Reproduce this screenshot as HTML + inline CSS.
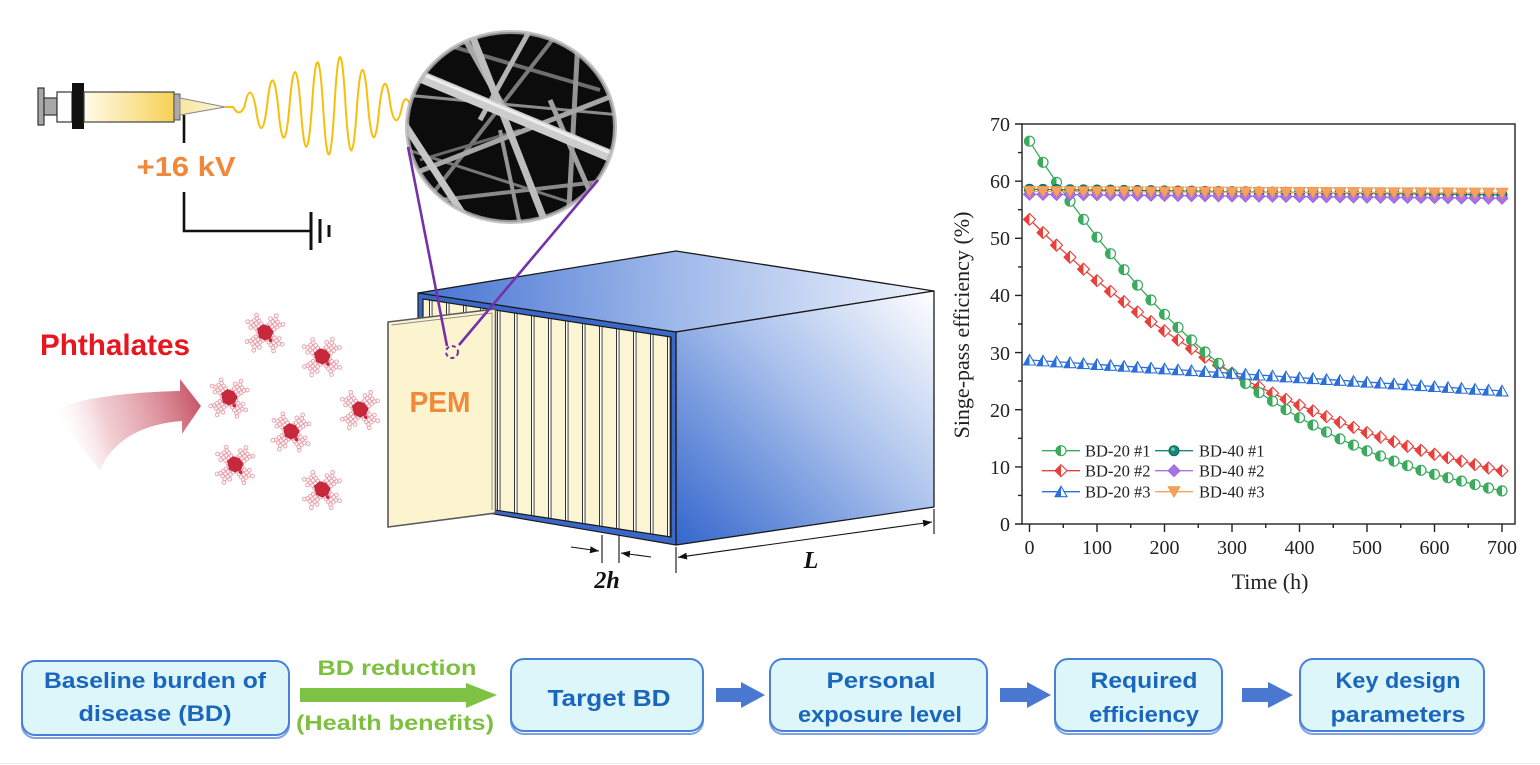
<!DOCTYPE html>
<html><head><meta charset="utf-8"><style>html,body{margin:0;padding:0;background:#fff}svg{display:block}</style></head>
<body>
<svg width="1540" height="765" viewBox="0 0 1540 765" xmlns="http://www.w3.org/2000/svg">
<defs>
<linearGradient id="barrel" x1="0" y1="0" x2="1" y2="0"><stop offset="0" stop-color="#fffbea"/><stop offset="1" stop-color="#f6d153"/></linearGradient>
<linearGradient id="needle" x1="0" y1="0" x2="1" y2="0"><stop offset="0" stop-color="#f7e6a0"/><stop offset="1" stop-color="#fdf6dc"/></linearGradient>
<linearGradient id="topG" gradientUnits="userSpaceOnUse" x1="418" y1="300" x2="934" y2="280"><stop offset="0" stop-color="#4673d2"/><stop offset="0.5" stop-color="#9fb9ea"/><stop offset="1" stop-color="#edf2fc"/></linearGradient>
<linearGradient id="sideG" gradientUnits="userSpaceOnUse" x1="676" y1="545" x2="934" y2="291"><stop offset="0" stop-color="#3466cc"/><stop offset="0.55" stop-color="#a9c1ec"/><stop offset="1" stop-color="#ffffff"/></linearGradient>
<linearGradient id="arrG" gradientUnits="userSpaceOnUse" x1="60" y1="445" x2="200" y2="400"><stop offset="0" stop-color="#ffffff" stop-opacity="0"/><stop offset="0.35" stop-color="#e6a3ad" stop-opacity="0.55"/><stop offset="1" stop-color="#c65466"/></linearGradient>
<pattern id="pl" patternUnits="userSpaceOnUse" x="497" y="0" width="17" height="765">
<rect width="17" height="765" fill="#ffffff"/><rect x="3" width="14" height="765" fill="#fcf5d4"/>
<rect x="0" width="1" height="765" fill="#333"/><rect x="2.6" width="0.9" height="765" fill="#333"/>
</pattern>
<clipPath id="semClip"><ellipse cx="511" cy="127" rx="104" ry="95"/></clipPath>
<marker id="ah" markerWidth="10" markerHeight="8" refX="9" refY="4" orient="auto" markerUnits="userSpaceOnUse"><path d="M0 0.5 L9 4 L0 7.5 Z" fill="#111"/></marker>
<marker id="mg" markerWidth="14" markerHeight="14" refX="7" refY="7" markerUnits="userSpaceOnUse"><circle cx="7" cy="7" r="5" fill="#fff" stroke="#3aaa5c" stroke-width="1.2"/><path d="M7 2A5 5 0 0 0 7 12Z" fill="#3aaa5c"/></marker>
<marker id="mr" markerWidth="14" markerHeight="14" refX="7" refY="7" markerUnits="userSpaceOnUse"><path d="M7 1 L13 7 L7 13 L1 7 Z" fill="#fff" stroke="#e8413c" stroke-width="1.1"/><path d="M7 1 L1 7 L7 13 Z" fill="#e8413c"/></marker>
<marker id="mb" markerWidth="14" markerHeight="14" refX="7" refY="7" markerUnits="userSpaceOnUse"><path d="M7 1.5 L13 12 L1 12 Z" fill="#fff" stroke="#2a6fdb" stroke-width="1.1"/><path d="M7 1.5 L1 12 L7 12 Z" fill="#2a6fdb"/></marker>
<marker id="mt" markerWidth="14" markerHeight="14" refX="7" refY="7" markerUnits="userSpaceOnUse"><circle cx="7" cy="7" r="5" fill="#158a78" stroke="#0e6a5c" stroke-width="1"/><circle cx="6" cy="5.5" r="1.8" fill="#6cc7b7"/></marker>
<marker id="mp" markerWidth="14" markerHeight="14" refX="7" refY="7" markerUnits="userSpaceOnUse"><path d="M7 1 L13 7 L7 13 L1 7 Z" fill="#a873e8" stroke="#9460d8" stroke-width="0.8"/></marker>
<marker id="mo" markerWidth="14" markerHeight="14" refX="7" refY="7" markerUnits="userSpaceOnUse"><path d="M1 2 L13 2 L7 12.5 Z" fill="#f6a25e" stroke="#ee9548" stroke-width="0.8"/></marker>
</defs>

<rect width="1540" height="765" fill="#fff"/>

<!-- ============ SYRINGE ============ -->
<rect x="38" y="88" width="6" height="37" fill="#a8a8a8" stroke="#333" stroke-width="1.2"/>
<rect x="44" y="98" width="13" height="17" fill="#a8a8a8" stroke="#333" stroke-width="1.2"/>
<rect x="57" y="92" width="15" height="30" fill="#fff" stroke="#333" stroke-width="1.2"/>
<rect x="72" y="83" width="12" height="46" fill="#111"/>
<rect x="84" y="92" width="90" height="30" fill="url(#barrel)" stroke="#444" stroke-width="1.2"/>
<rect x="174" y="94" width="6" height="26" fill="#aaa" stroke="#555" stroke-width="1"/>
<path d="M180 98 L225 107 L180 115 Z" fill="url(#needle)" stroke="#888" stroke-width="1"/>
<path d="M184 115 V143" stroke="#111" stroke-width="2.6" fill="none"/>
<text x="186" y="176" text-anchor="middle" font-family="Liberation Sans, sans-serif" font-weight="bold" font-size="28" fill="#f0873a" textLength="99" lengthAdjust="spacingAndGlyphs">+16 kV</text>
<path d="M184 192 V231 H311" stroke="#111" stroke-width="2.6" fill="none"/>
<rect x="309.5" y="212" width="3" height="38" fill="#111"/>
<rect x="318.5" y="219" width="3" height="24" fill="#111"/>
<rect x="327.5" y="225" width="3" height="12" fill="#111"/>

<!-- wave -->
<path d="M225 107 L233.15 107 Q238.8 118 244.4 107 Q250 78.2 255.65 107 Q261.3 149 266.9 107 Q272.5 53.6 278.15 107 Q283.8 168.6 289.4 107 Q295 37 300.65 107 Q306.3 186.8 311.9 107 Q317.5 17.4 323.15 107 Q328.8 202 334.4 107 Q340 7 345.65 107 Q351.3 194 356.9 107 Q362.5 32.8 368.15 107 Q373.8 167.8 379.4 107 Q385 60.6 390.65 107 Q396.3 133.6 401.9 107 Q405 93 410 104" fill="none" stroke="#f7bf0a" stroke-width="2"/>

<!-- SEM circle -->
<g clip-path="url(#semClip)">
<rect x="400" y="25" width="225" height="205" fill="#0c0c0c"/>
<g stroke-linecap="butt" fill="none">
<path d="M430 40 L600 90" stroke="#6e6e6e" stroke-width="4"/>
<path d="M405 95 L620 115" stroke="#8c8c8c" stroke-width="3"/>
<path d="M420 210 L560 30" stroke="#7a7a7a" stroke-width="4"/>
<path d="M440 200 L615 180" stroke="#8a8a8a" stroke-width="4"/>
<path d="M408 150 L600 212" stroke="#777" stroke-width="3"/>
<path d="M420 160 L520 130" stroke="#6a6a6a" stroke-width="3"/>
<path d="M578 40 L568 225" stroke="#949494" stroke-width="5"/>
<path d="M460 30 L505 110" stroke="#a8a8a8" stroke-width="6"/>
<path d="M530 30 L480 120" stroke="#b4b4b4" stroke-width="5"/>
<path d="M550 100 L600 215" stroke="#a0a0a0" stroke-width="5"/>
<path d="M500 130 L520 225" stroke="#959595" stroke-width="4"/>
<path d="M410 175 L615 95" stroke="#a6a6a6" stroke-width="5"/>
<path d="M470 30 L545 222" stroke="#bdbdbd" stroke-width="7"/>
<path d="M405 125 L470 225" stroke="#c6c6c6" stroke-width="7"/>
<path d="M590 45 L615 80" stroke="#a0a0a0" stroke-width="3"/>
<path d="M405 70 L620 160" stroke="#cdcdcd" stroke-width="12"/>
<path d="M405 67 L620 157" stroke="#eeeeee" stroke-width="3"/>
</g>
</g>
<ellipse cx="511" cy="127" rx="104" ry="95" fill="none" stroke="#b5b5b5" stroke-width="4" opacity="0.8"/>

<!-- ============ PHTHALATES ============ -->
<text x="40" y="355" font-family="Liberation Sans, sans-serif" font-weight="bold" font-size="30" fill="#e8161e" textLength="150" lengthAdjust="spacingAndGlyphs">Phthalates</text>
<path d="M52 410 C90 395 140 392 180 391 L180 379 L201 406 L182 434 L182 421 C140 424 112 442 100 470 Z" fill="url(#arrG)"/>

<!-- molecules -->
<g fill="#fff5f6" stroke="#e49aa5" stroke-width="0.8">
<g transform="translate(265,333) rotate(8)"><path d="M-0.8 -7.4a1.9 1.9 0 1 0 3.8 0a1.9 1.9 0 1 0-3.8 0M1.6 -5a1.9 1.9 0 1 0 3.8 0a1.9 1.9 0 1 0-3.8 0M4.1 -2.5a1.9 1.9 0 1 0 3.8 0a1.9 1.9 0 1 0-3.8 0M1.6 -9.9a1.9 1.9 0 1 0 3.8 0a1.9 1.9 0 1 0-3.8 0M4.1 -7.4a1.9 1.9 0 1 0 3.8 0a1.9 1.9 0 1 0-3.8 0M6.6 -5a1.9 1.9 0 1 0 3.8 0a1.9 1.9 0 1 0-3.8 0M4.1 -12.4a1.9 1.9 0 1 0 3.8 0a1.9 1.9 0 1 0-3.8 0M6.6 -9.9a1.9 1.9 0 1 0 3.8 0a1.9 1.9 0 1 0-3.8 0M9.1 -7.4a1.9 1.9 0 1 0 3.8 0a1.9 1.9 0 1 0-3.8 0M6.6 -14.9a1.9 1.9 0 1 0 3.8 0a1.9 1.9 0 1 0-3.8 0M9.1 -12.4a1.9 1.9 0 1 0 3.8 0a1.9 1.9 0 1 0-3.8 0M11.5 -9.9a1.9 1.9 0 1 0 3.8 0a1.9 1.9 0 1 0-3.8 0M6.9 -18.7a1.9 1.9 0 1 0 3.8 0a1.9 1.9 0 1 0-3.8 0M14.7 -11a1.9 1.9 0 1 0 3.8 0a1.9 1.9 0 1 0-3.8 0M1.6 -14.9a1.9 1.9 0 1 0 3.8 0a1.9 1.9 0 1 0-3.8 0M5.5 1.1a1.9 1.9 0 1 0 3.8 0a1.9 1.9 0 1 0-3.8 0M3.1 3.5a1.9 1.9 0 1 0 3.8 0a1.9 1.9 0 1 0-3.8 0M0.6 6a1.9 1.9 0 1 0 3.8 0a1.9 1.9 0 1 0-3.8 0M8 3.5a1.9 1.9 0 1 0 3.8 0a1.9 1.9 0 1 0-3.8 0M5.5 6a1.9 1.9 0 1 0 3.8 0a1.9 1.9 0 1 0-3.8 0M3.1 8.5a1.9 1.9 0 1 0 3.8 0a1.9 1.9 0 1 0-3.8 0M10.5 6a1.9 1.9 0 1 0 3.8 0a1.9 1.9 0 1 0-3.8 0M8 8.5a1.9 1.9 0 1 0 3.8 0a1.9 1.9 0 1 0-3.8 0M5.5 11a1.9 1.9 0 1 0 3.8 0a1.9 1.9 0 1 0-3.8 0M13 8.5a1.9 1.9 0 1 0 3.8 0a1.9 1.9 0 1 0-3.8 0M10.5 11a1.9 1.9 0 1 0 3.8 0a1.9 1.9 0 1 0-3.8 0M8 13.4a1.9 1.9 0 1 0 3.8 0a1.9 1.9 0 1 0-3.8 0M16.8 8.8a1.9 1.9 0 1 0 3.8 0a1.9 1.9 0 1 0-3.8 0M9.1 16.6a1.9 1.9 0 1 0 3.8 0a1.9 1.9 0 1 0-3.8 0M13 3.5a1.9 1.9 0 1 0 3.8 0a1.9 1.9 0 1 0-3.8 0M-3 7.4a1.9 1.9 0 1 0 3.8 0a1.9 1.9 0 1 0-3.8 0M-5.4 5a1.9 1.9 0 1 0 3.8 0a1.9 1.9 0 1 0-3.8 0M-7.9 2.5a1.9 1.9 0 1 0 3.8 0a1.9 1.9 0 1 0-3.8 0M-5.4 9.9a1.9 1.9 0 1 0 3.8 0a1.9 1.9 0 1 0-3.8 0M-7.9 7.4a1.9 1.9 0 1 0 3.8 0a1.9 1.9 0 1 0-3.8 0M-10.4 5a1.9 1.9 0 1 0 3.8 0a1.9 1.9 0 1 0-3.8 0M-7.9 12.4a1.9 1.9 0 1 0 3.8 0a1.9 1.9 0 1 0-3.8 0M-10.4 9.9a1.9 1.9 0 1 0 3.8 0a1.9 1.9 0 1 0-3.8 0M-12.9 7.4a1.9 1.9 0 1 0 3.8 0a1.9 1.9 0 1 0-3.8 0M-10.4 14.9a1.9 1.9 0 1 0 3.8 0a1.9 1.9 0 1 0-3.8 0M-12.9 12.4a1.9 1.9 0 1 0 3.8 0a1.9 1.9 0 1 0-3.8 0M-15.3 9.9a1.9 1.9 0 1 0 3.8 0a1.9 1.9 0 1 0-3.8 0M-10.7 18.7a1.9 1.9 0 1 0 3.8 0a1.9 1.9 0 1 0-3.8 0M-18.5 11a1.9 1.9 0 1 0 3.8 0a1.9 1.9 0 1 0-3.8 0M-5.4 14.9a1.9 1.9 0 1 0 3.8 0a1.9 1.9 0 1 0-3.8 0M-9.3 -1.1a1.9 1.9 0 1 0 3.8 0a1.9 1.9 0 1 0-3.8 0M-6.9 -3.5a1.9 1.9 0 1 0 3.8 0a1.9 1.9 0 1 0-3.8 0M-4.4 -6a1.9 1.9 0 1 0 3.8 0a1.9 1.9 0 1 0-3.8 0M-11.8 -3.5a1.9 1.9 0 1 0 3.8 0a1.9 1.9 0 1 0-3.8 0M-9.3 -6a1.9 1.9 0 1 0 3.8 0a1.9 1.9 0 1 0-3.8 0M-6.9 -8.5a1.9 1.9 0 1 0 3.8 0a1.9 1.9 0 1 0-3.8 0M-14.3 -6a1.9 1.9 0 1 0 3.8 0a1.9 1.9 0 1 0-3.8 0M-11.8 -8.5a1.9 1.9 0 1 0 3.8 0a1.9 1.9 0 1 0-3.8 0M-9.3 -11a1.9 1.9 0 1 0 3.8 0a1.9 1.9 0 1 0-3.8 0M-16.8 -8.5a1.9 1.9 0 1 0 3.8 0a1.9 1.9 0 1 0-3.8 0M-14.3 -11a1.9 1.9 0 1 0 3.8 0a1.9 1.9 0 1 0-3.8 0M-11.8 -13.4a1.9 1.9 0 1 0 3.8 0a1.9 1.9 0 1 0-3.8 0M-20.6 -8.8a1.9 1.9 0 1 0 3.8 0a1.9 1.9 0 1 0-3.8 0M-12.9 -16.6a1.9 1.9 0 1 0 3.8 0a1.9 1.9 0 1 0-3.8 0M-16.8 -3.5a1.9 1.9 0 1 0 3.8 0a1.9 1.9 0 1 0-3.8 0"/><path d="M-8 -3 L-3 -8 L3 -7 L8 -2 L6 4 L1 7 L-5 5 Z" fill="#c8283c" stroke="#b8223a"/><circle cx="6.5" cy="6.5" r="1.8" fill="#c8283c" stroke="none"/></g>
<g transform="translate(322,357) rotate(5)"><path d="M-0.8 -7.4a1.9 1.9 0 1 0 3.8 0a1.9 1.9 0 1 0-3.8 0M1.6 -5a1.9 1.9 0 1 0 3.8 0a1.9 1.9 0 1 0-3.8 0M4.1 -2.5a1.9 1.9 0 1 0 3.8 0a1.9 1.9 0 1 0-3.8 0M1.6 -9.9a1.9 1.9 0 1 0 3.8 0a1.9 1.9 0 1 0-3.8 0M4.1 -7.4a1.9 1.9 0 1 0 3.8 0a1.9 1.9 0 1 0-3.8 0M6.6 -5a1.9 1.9 0 1 0 3.8 0a1.9 1.9 0 1 0-3.8 0M4.1 -12.4a1.9 1.9 0 1 0 3.8 0a1.9 1.9 0 1 0-3.8 0M6.6 -9.9a1.9 1.9 0 1 0 3.8 0a1.9 1.9 0 1 0-3.8 0M9.1 -7.4a1.9 1.9 0 1 0 3.8 0a1.9 1.9 0 1 0-3.8 0M6.6 -14.9a1.9 1.9 0 1 0 3.8 0a1.9 1.9 0 1 0-3.8 0M9.1 -12.4a1.9 1.9 0 1 0 3.8 0a1.9 1.9 0 1 0-3.8 0M11.5 -9.9a1.9 1.9 0 1 0 3.8 0a1.9 1.9 0 1 0-3.8 0M6.9 -18.7a1.9 1.9 0 1 0 3.8 0a1.9 1.9 0 1 0-3.8 0M14.7 -11a1.9 1.9 0 1 0 3.8 0a1.9 1.9 0 1 0-3.8 0M1.6 -14.9a1.9 1.9 0 1 0 3.8 0a1.9 1.9 0 1 0-3.8 0M5.5 1.1a1.9 1.9 0 1 0 3.8 0a1.9 1.9 0 1 0-3.8 0M3.1 3.5a1.9 1.9 0 1 0 3.8 0a1.9 1.9 0 1 0-3.8 0M0.6 6a1.9 1.9 0 1 0 3.8 0a1.9 1.9 0 1 0-3.8 0M8 3.5a1.9 1.9 0 1 0 3.8 0a1.9 1.9 0 1 0-3.8 0M5.5 6a1.9 1.9 0 1 0 3.8 0a1.9 1.9 0 1 0-3.8 0M3.1 8.5a1.9 1.9 0 1 0 3.8 0a1.9 1.9 0 1 0-3.8 0M10.5 6a1.9 1.9 0 1 0 3.8 0a1.9 1.9 0 1 0-3.8 0M8 8.5a1.9 1.9 0 1 0 3.8 0a1.9 1.9 0 1 0-3.8 0M5.5 11a1.9 1.9 0 1 0 3.8 0a1.9 1.9 0 1 0-3.8 0M13 8.5a1.9 1.9 0 1 0 3.8 0a1.9 1.9 0 1 0-3.8 0M10.5 11a1.9 1.9 0 1 0 3.8 0a1.9 1.9 0 1 0-3.8 0M8 13.4a1.9 1.9 0 1 0 3.8 0a1.9 1.9 0 1 0-3.8 0M16.8 8.8a1.9 1.9 0 1 0 3.8 0a1.9 1.9 0 1 0-3.8 0M9.1 16.6a1.9 1.9 0 1 0 3.8 0a1.9 1.9 0 1 0-3.8 0M13 3.5a1.9 1.9 0 1 0 3.8 0a1.9 1.9 0 1 0-3.8 0M-3 7.4a1.9 1.9 0 1 0 3.8 0a1.9 1.9 0 1 0-3.8 0M-5.4 5a1.9 1.9 0 1 0 3.8 0a1.9 1.9 0 1 0-3.8 0M-7.9 2.5a1.9 1.9 0 1 0 3.8 0a1.9 1.9 0 1 0-3.8 0M-5.4 9.9a1.9 1.9 0 1 0 3.8 0a1.9 1.9 0 1 0-3.8 0M-7.9 7.4a1.9 1.9 0 1 0 3.8 0a1.9 1.9 0 1 0-3.8 0M-10.4 5a1.9 1.9 0 1 0 3.8 0a1.9 1.9 0 1 0-3.8 0M-7.9 12.4a1.9 1.9 0 1 0 3.8 0a1.9 1.9 0 1 0-3.8 0M-10.4 9.9a1.9 1.9 0 1 0 3.8 0a1.9 1.9 0 1 0-3.8 0M-12.9 7.4a1.9 1.9 0 1 0 3.8 0a1.9 1.9 0 1 0-3.8 0M-10.4 14.9a1.9 1.9 0 1 0 3.8 0a1.9 1.9 0 1 0-3.8 0M-12.9 12.4a1.9 1.9 0 1 0 3.8 0a1.9 1.9 0 1 0-3.8 0M-15.3 9.9a1.9 1.9 0 1 0 3.8 0a1.9 1.9 0 1 0-3.8 0M-10.7 18.7a1.9 1.9 0 1 0 3.8 0a1.9 1.9 0 1 0-3.8 0M-18.5 11a1.9 1.9 0 1 0 3.8 0a1.9 1.9 0 1 0-3.8 0M-5.4 14.9a1.9 1.9 0 1 0 3.8 0a1.9 1.9 0 1 0-3.8 0M-9.3 -1.1a1.9 1.9 0 1 0 3.8 0a1.9 1.9 0 1 0-3.8 0M-6.9 -3.5a1.9 1.9 0 1 0 3.8 0a1.9 1.9 0 1 0-3.8 0M-4.4 -6a1.9 1.9 0 1 0 3.8 0a1.9 1.9 0 1 0-3.8 0M-11.8 -3.5a1.9 1.9 0 1 0 3.8 0a1.9 1.9 0 1 0-3.8 0M-9.3 -6a1.9 1.9 0 1 0 3.8 0a1.9 1.9 0 1 0-3.8 0M-6.9 -8.5a1.9 1.9 0 1 0 3.8 0a1.9 1.9 0 1 0-3.8 0M-14.3 -6a1.9 1.9 0 1 0 3.8 0a1.9 1.9 0 1 0-3.8 0M-11.8 -8.5a1.9 1.9 0 1 0 3.8 0a1.9 1.9 0 1 0-3.8 0M-9.3 -11a1.9 1.9 0 1 0 3.8 0a1.9 1.9 0 1 0-3.8 0M-16.8 -8.5a1.9 1.9 0 1 0 3.8 0a1.9 1.9 0 1 0-3.8 0M-14.3 -11a1.9 1.9 0 1 0 3.8 0a1.9 1.9 0 1 0-3.8 0M-11.8 -13.4a1.9 1.9 0 1 0 3.8 0a1.9 1.9 0 1 0-3.8 0M-20.6 -8.8a1.9 1.9 0 1 0 3.8 0a1.9 1.9 0 1 0-3.8 0M-12.9 -16.6a1.9 1.9 0 1 0 3.8 0a1.9 1.9 0 1 0-3.8 0M-16.8 -3.5a1.9 1.9 0 1 0 3.8 0a1.9 1.9 0 1 0-3.8 0"/><path d="M-8 -3 L-3 -8 L3 -7 L8 -2 L6 4 L1 7 L-5 5 Z" fill="#c8283c" stroke="#b8223a"/><circle cx="6.5" cy="6.5" r="1.8" fill="#c8283c" stroke="none"/></g>
<g transform="translate(229,398) rotate(10)"><path d="M-0.8 -7.4a1.9 1.9 0 1 0 3.8 0a1.9 1.9 0 1 0-3.8 0M1.6 -5a1.9 1.9 0 1 0 3.8 0a1.9 1.9 0 1 0-3.8 0M4.1 -2.5a1.9 1.9 0 1 0 3.8 0a1.9 1.9 0 1 0-3.8 0M1.6 -9.9a1.9 1.9 0 1 0 3.8 0a1.9 1.9 0 1 0-3.8 0M4.1 -7.4a1.9 1.9 0 1 0 3.8 0a1.9 1.9 0 1 0-3.8 0M6.6 -5a1.9 1.9 0 1 0 3.8 0a1.9 1.9 0 1 0-3.8 0M4.1 -12.4a1.9 1.9 0 1 0 3.8 0a1.9 1.9 0 1 0-3.8 0M6.6 -9.9a1.9 1.9 0 1 0 3.8 0a1.9 1.9 0 1 0-3.8 0M9.1 -7.4a1.9 1.9 0 1 0 3.8 0a1.9 1.9 0 1 0-3.8 0M6.6 -14.9a1.9 1.9 0 1 0 3.8 0a1.9 1.9 0 1 0-3.8 0M9.1 -12.4a1.9 1.9 0 1 0 3.8 0a1.9 1.9 0 1 0-3.8 0M11.5 -9.9a1.9 1.9 0 1 0 3.8 0a1.9 1.9 0 1 0-3.8 0M6.9 -18.7a1.9 1.9 0 1 0 3.8 0a1.9 1.9 0 1 0-3.8 0M14.7 -11a1.9 1.9 0 1 0 3.8 0a1.9 1.9 0 1 0-3.8 0M1.6 -14.9a1.9 1.9 0 1 0 3.8 0a1.9 1.9 0 1 0-3.8 0M5.5 1.1a1.9 1.9 0 1 0 3.8 0a1.9 1.9 0 1 0-3.8 0M3.1 3.5a1.9 1.9 0 1 0 3.8 0a1.9 1.9 0 1 0-3.8 0M0.6 6a1.9 1.9 0 1 0 3.8 0a1.9 1.9 0 1 0-3.8 0M8 3.5a1.9 1.9 0 1 0 3.8 0a1.9 1.9 0 1 0-3.8 0M5.5 6a1.9 1.9 0 1 0 3.8 0a1.9 1.9 0 1 0-3.8 0M3.1 8.5a1.9 1.9 0 1 0 3.8 0a1.9 1.9 0 1 0-3.8 0M10.5 6a1.9 1.9 0 1 0 3.8 0a1.9 1.9 0 1 0-3.8 0M8 8.5a1.9 1.9 0 1 0 3.8 0a1.9 1.9 0 1 0-3.8 0M5.5 11a1.9 1.9 0 1 0 3.8 0a1.9 1.9 0 1 0-3.8 0M13 8.5a1.9 1.9 0 1 0 3.8 0a1.9 1.9 0 1 0-3.8 0M10.5 11a1.9 1.9 0 1 0 3.8 0a1.9 1.9 0 1 0-3.8 0M8 13.4a1.9 1.9 0 1 0 3.8 0a1.9 1.9 0 1 0-3.8 0M16.8 8.8a1.9 1.9 0 1 0 3.8 0a1.9 1.9 0 1 0-3.8 0M9.1 16.6a1.9 1.9 0 1 0 3.8 0a1.9 1.9 0 1 0-3.8 0M13 3.5a1.9 1.9 0 1 0 3.8 0a1.9 1.9 0 1 0-3.8 0M-3 7.4a1.9 1.9 0 1 0 3.8 0a1.9 1.9 0 1 0-3.8 0M-5.4 5a1.9 1.9 0 1 0 3.8 0a1.9 1.9 0 1 0-3.8 0M-7.9 2.5a1.9 1.9 0 1 0 3.8 0a1.9 1.9 0 1 0-3.8 0M-5.4 9.9a1.9 1.9 0 1 0 3.8 0a1.9 1.9 0 1 0-3.8 0M-7.9 7.4a1.9 1.9 0 1 0 3.8 0a1.9 1.9 0 1 0-3.8 0M-10.4 5a1.9 1.9 0 1 0 3.8 0a1.9 1.9 0 1 0-3.8 0M-7.9 12.4a1.9 1.9 0 1 0 3.8 0a1.9 1.9 0 1 0-3.8 0M-10.4 9.9a1.9 1.9 0 1 0 3.8 0a1.9 1.9 0 1 0-3.8 0M-12.9 7.4a1.9 1.9 0 1 0 3.8 0a1.9 1.9 0 1 0-3.8 0M-10.4 14.9a1.9 1.9 0 1 0 3.8 0a1.9 1.9 0 1 0-3.8 0M-12.9 12.4a1.9 1.9 0 1 0 3.8 0a1.9 1.9 0 1 0-3.8 0M-15.3 9.9a1.9 1.9 0 1 0 3.8 0a1.9 1.9 0 1 0-3.8 0M-10.7 18.7a1.9 1.9 0 1 0 3.8 0a1.9 1.9 0 1 0-3.8 0M-18.5 11a1.9 1.9 0 1 0 3.8 0a1.9 1.9 0 1 0-3.8 0M-5.4 14.9a1.9 1.9 0 1 0 3.8 0a1.9 1.9 0 1 0-3.8 0M-9.3 -1.1a1.9 1.9 0 1 0 3.8 0a1.9 1.9 0 1 0-3.8 0M-6.9 -3.5a1.9 1.9 0 1 0 3.8 0a1.9 1.9 0 1 0-3.8 0M-4.4 -6a1.9 1.9 0 1 0 3.8 0a1.9 1.9 0 1 0-3.8 0M-11.8 -3.5a1.9 1.9 0 1 0 3.8 0a1.9 1.9 0 1 0-3.8 0M-9.3 -6a1.9 1.9 0 1 0 3.8 0a1.9 1.9 0 1 0-3.8 0M-6.9 -8.5a1.9 1.9 0 1 0 3.8 0a1.9 1.9 0 1 0-3.8 0M-14.3 -6a1.9 1.9 0 1 0 3.8 0a1.9 1.9 0 1 0-3.8 0M-11.8 -8.5a1.9 1.9 0 1 0 3.8 0a1.9 1.9 0 1 0-3.8 0M-9.3 -11a1.9 1.9 0 1 0 3.8 0a1.9 1.9 0 1 0-3.8 0M-16.8 -8.5a1.9 1.9 0 1 0 3.8 0a1.9 1.9 0 1 0-3.8 0M-14.3 -11a1.9 1.9 0 1 0 3.8 0a1.9 1.9 0 1 0-3.8 0M-11.8 -13.4a1.9 1.9 0 1 0 3.8 0a1.9 1.9 0 1 0-3.8 0M-20.6 -8.8a1.9 1.9 0 1 0 3.8 0a1.9 1.9 0 1 0-3.8 0M-12.9 -16.6a1.9 1.9 0 1 0 3.8 0a1.9 1.9 0 1 0-3.8 0M-16.8 -3.5a1.9 1.9 0 1 0 3.8 0a1.9 1.9 0 1 0-3.8 0"/><path d="M-8 -3 L-3 -8 L3 -7 L8 -2 L6 4 L1 7 L-5 5 Z" fill="#c8283c" stroke="#b8223a"/><circle cx="6.5" cy="6.5" r="1.8" fill="#c8283c" stroke="none"/></g>
<g transform="translate(360,410) rotate(6)"><path d="M-0.8 -7.4a1.9 1.9 0 1 0 3.8 0a1.9 1.9 0 1 0-3.8 0M1.6 -5a1.9 1.9 0 1 0 3.8 0a1.9 1.9 0 1 0-3.8 0M4.1 -2.5a1.9 1.9 0 1 0 3.8 0a1.9 1.9 0 1 0-3.8 0M1.6 -9.9a1.9 1.9 0 1 0 3.8 0a1.9 1.9 0 1 0-3.8 0M4.1 -7.4a1.9 1.9 0 1 0 3.8 0a1.9 1.9 0 1 0-3.8 0M6.6 -5a1.9 1.9 0 1 0 3.8 0a1.9 1.9 0 1 0-3.8 0M4.1 -12.4a1.9 1.9 0 1 0 3.8 0a1.9 1.9 0 1 0-3.8 0M6.6 -9.9a1.9 1.9 0 1 0 3.8 0a1.9 1.9 0 1 0-3.8 0M9.1 -7.4a1.9 1.9 0 1 0 3.8 0a1.9 1.9 0 1 0-3.8 0M6.6 -14.9a1.9 1.9 0 1 0 3.8 0a1.9 1.9 0 1 0-3.8 0M9.1 -12.4a1.9 1.9 0 1 0 3.8 0a1.9 1.9 0 1 0-3.8 0M11.5 -9.9a1.9 1.9 0 1 0 3.8 0a1.9 1.9 0 1 0-3.8 0M6.9 -18.7a1.9 1.9 0 1 0 3.8 0a1.9 1.9 0 1 0-3.8 0M14.7 -11a1.9 1.9 0 1 0 3.8 0a1.9 1.9 0 1 0-3.8 0M1.6 -14.9a1.9 1.9 0 1 0 3.8 0a1.9 1.9 0 1 0-3.8 0M5.5 1.1a1.9 1.9 0 1 0 3.8 0a1.9 1.9 0 1 0-3.8 0M3.1 3.5a1.9 1.9 0 1 0 3.8 0a1.9 1.9 0 1 0-3.8 0M0.6 6a1.9 1.9 0 1 0 3.8 0a1.9 1.9 0 1 0-3.8 0M8 3.5a1.9 1.9 0 1 0 3.8 0a1.9 1.9 0 1 0-3.8 0M5.5 6a1.9 1.9 0 1 0 3.8 0a1.9 1.9 0 1 0-3.8 0M3.1 8.5a1.9 1.9 0 1 0 3.8 0a1.9 1.9 0 1 0-3.8 0M10.5 6a1.9 1.9 0 1 0 3.8 0a1.9 1.9 0 1 0-3.8 0M8 8.5a1.9 1.9 0 1 0 3.8 0a1.9 1.9 0 1 0-3.8 0M5.5 11a1.9 1.9 0 1 0 3.8 0a1.9 1.9 0 1 0-3.8 0M13 8.5a1.9 1.9 0 1 0 3.8 0a1.9 1.9 0 1 0-3.8 0M10.5 11a1.9 1.9 0 1 0 3.8 0a1.9 1.9 0 1 0-3.8 0M8 13.4a1.9 1.9 0 1 0 3.8 0a1.9 1.9 0 1 0-3.8 0M16.8 8.8a1.9 1.9 0 1 0 3.8 0a1.9 1.9 0 1 0-3.8 0M9.1 16.6a1.9 1.9 0 1 0 3.8 0a1.9 1.9 0 1 0-3.8 0M13 3.5a1.9 1.9 0 1 0 3.8 0a1.9 1.9 0 1 0-3.8 0M-3 7.4a1.9 1.9 0 1 0 3.8 0a1.9 1.9 0 1 0-3.8 0M-5.4 5a1.9 1.9 0 1 0 3.8 0a1.9 1.9 0 1 0-3.8 0M-7.9 2.5a1.9 1.9 0 1 0 3.8 0a1.9 1.9 0 1 0-3.8 0M-5.4 9.9a1.9 1.9 0 1 0 3.8 0a1.9 1.9 0 1 0-3.8 0M-7.9 7.4a1.9 1.9 0 1 0 3.8 0a1.9 1.9 0 1 0-3.8 0M-10.4 5a1.9 1.9 0 1 0 3.8 0a1.9 1.9 0 1 0-3.8 0M-7.9 12.4a1.9 1.9 0 1 0 3.8 0a1.9 1.9 0 1 0-3.8 0M-10.4 9.9a1.9 1.9 0 1 0 3.8 0a1.9 1.9 0 1 0-3.8 0M-12.9 7.4a1.9 1.9 0 1 0 3.8 0a1.9 1.9 0 1 0-3.8 0M-10.4 14.9a1.9 1.9 0 1 0 3.8 0a1.9 1.9 0 1 0-3.8 0M-12.9 12.4a1.9 1.9 0 1 0 3.8 0a1.9 1.9 0 1 0-3.8 0M-15.3 9.9a1.9 1.9 0 1 0 3.8 0a1.9 1.9 0 1 0-3.8 0M-10.7 18.7a1.9 1.9 0 1 0 3.8 0a1.9 1.9 0 1 0-3.8 0M-18.5 11a1.9 1.9 0 1 0 3.8 0a1.9 1.9 0 1 0-3.8 0M-5.4 14.9a1.9 1.9 0 1 0 3.8 0a1.9 1.9 0 1 0-3.8 0M-9.3 -1.1a1.9 1.9 0 1 0 3.8 0a1.9 1.9 0 1 0-3.8 0M-6.9 -3.5a1.9 1.9 0 1 0 3.8 0a1.9 1.9 0 1 0-3.8 0M-4.4 -6a1.9 1.9 0 1 0 3.8 0a1.9 1.9 0 1 0-3.8 0M-11.8 -3.5a1.9 1.9 0 1 0 3.8 0a1.9 1.9 0 1 0-3.8 0M-9.3 -6a1.9 1.9 0 1 0 3.8 0a1.9 1.9 0 1 0-3.8 0M-6.9 -8.5a1.9 1.9 0 1 0 3.8 0a1.9 1.9 0 1 0-3.8 0M-14.3 -6a1.9 1.9 0 1 0 3.8 0a1.9 1.9 0 1 0-3.8 0M-11.8 -8.5a1.9 1.9 0 1 0 3.8 0a1.9 1.9 0 1 0-3.8 0M-9.3 -11a1.9 1.9 0 1 0 3.8 0a1.9 1.9 0 1 0-3.8 0M-16.8 -8.5a1.9 1.9 0 1 0 3.8 0a1.9 1.9 0 1 0-3.8 0M-14.3 -11a1.9 1.9 0 1 0 3.8 0a1.9 1.9 0 1 0-3.8 0M-11.8 -13.4a1.9 1.9 0 1 0 3.8 0a1.9 1.9 0 1 0-3.8 0M-20.6 -8.8a1.9 1.9 0 1 0 3.8 0a1.9 1.9 0 1 0-3.8 0M-12.9 -16.6a1.9 1.9 0 1 0 3.8 0a1.9 1.9 0 1 0-3.8 0M-16.8 -3.5a1.9 1.9 0 1 0 3.8 0a1.9 1.9 0 1 0-3.8 0"/><path d="M-8 -3 L-3 -8 L3 -7 L8 -2 L6 4 L1 7 L-5 5 Z" fill="#c8283c" stroke="#b8223a"/><circle cx="6.5" cy="6.5" r="1.8" fill="#c8283c" stroke="none"/></g>
<g transform="translate(291,432) rotate(9)"><path d="M-0.8 -7.4a1.9 1.9 0 1 0 3.8 0a1.9 1.9 0 1 0-3.8 0M1.6 -5a1.9 1.9 0 1 0 3.8 0a1.9 1.9 0 1 0-3.8 0M4.1 -2.5a1.9 1.9 0 1 0 3.8 0a1.9 1.9 0 1 0-3.8 0M1.6 -9.9a1.9 1.9 0 1 0 3.8 0a1.9 1.9 0 1 0-3.8 0M4.1 -7.4a1.9 1.9 0 1 0 3.8 0a1.9 1.9 0 1 0-3.8 0M6.6 -5a1.9 1.9 0 1 0 3.8 0a1.9 1.9 0 1 0-3.8 0M4.1 -12.4a1.9 1.9 0 1 0 3.8 0a1.9 1.9 0 1 0-3.8 0M6.6 -9.9a1.9 1.9 0 1 0 3.8 0a1.9 1.9 0 1 0-3.8 0M9.1 -7.4a1.9 1.9 0 1 0 3.8 0a1.9 1.9 0 1 0-3.8 0M6.6 -14.9a1.9 1.9 0 1 0 3.8 0a1.9 1.9 0 1 0-3.8 0M9.1 -12.4a1.9 1.9 0 1 0 3.8 0a1.9 1.9 0 1 0-3.8 0M11.5 -9.9a1.9 1.9 0 1 0 3.8 0a1.9 1.9 0 1 0-3.8 0M6.9 -18.7a1.9 1.9 0 1 0 3.8 0a1.9 1.9 0 1 0-3.8 0M14.7 -11a1.9 1.9 0 1 0 3.8 0a1.9 1.9 0 1 0-3.8 0M1.6 -14.9a1.9 1.9 0 1 0 3.8 0a1.9 1.9 0 1 0-3.8 0M5.5 1.1a1.9 1.9 0 1 0 3.8 0a1.9 1.9 0 1 0-3.8 0M3.1 3.5a1.9 1.9 0 1 0 3.8 0a1.9 1.9 0 1 0-3.8 0M0.6 6a1.9 1.9 0 1 0 3.8 0a1.9 1.9 0 1 0-3.8 0M8 3.5a1.9 1.9 0 1 0 3.8 0a1.9 1.9 0 1 0-3.8 0M5.5 6a1.9 1.9 0 1 0 3.8 0a1.9 1.9 0 1 0-3.8 0M3.1 8.5a1.9 1.9 0 1 0 3.8 0a1.9 1.9 0 1 0-3.8 0M10.5 6a1.9 1.9 0 1 0 3.8 0a1.9 1.9 0 1 0-3.8 0M8 8.5a1.9 1.9 0 1 0 3.8 0a1.9 1.9 0 1 0-3.8 0M5.5 11a1.9 1.9 0 1 0 3.8 0a1.9 1.9 0 1 0-3.8 0M13 8.5a1.9 1.9 0 1 0 3.8 0a1.9 1.9 0 1 0-3.8 0M10.5 11a1.9 1.9 0 1 0 3.8 0a1.9 1.9 0 1 0-3.8 0M8 13.4a1.9 1.9 0 1 0 3.8 0a1.9 1.9 0 1 0-3.8 0M16.8 8.8a1.9 1.9 0 1 0 3.8 0a1.9 1.9 0 1 0-3.8 0M9.1 16.6a1.9 1.9 0 1 0 3.8 0a1.9 1.9 0 1 0-3.8 0M13 3.5a1.9 1.9 0 1 0 3.8 0a1.9 1.9 0 1 0-3.8 0M-3 7.4a1.9 1.9 0 1 0 3.8 0a1.9 1.9 0 1 0-3.8 0M-5.4 5a1.9 1.9 0 1 0 3.8 0a1.9 1.9 0 1 0-3.8 0M-7.9 2.5a1.9 1.9 0 1 0 3.8 0a1.9 1.9 0 1 0-3.8 0M-5.4 9.9a1.9 1.9 0 1 0 3.8 0a1.9 1.9 0 1 0-3.8 0M-7.9 7.4a1.9 1.9 0 1 0 3.8 0a1.9 1.9 0 1 0-3.8 0M-10.4 5a1.9 1.9 0 1 0 3.8 0a1.9 1.9 0 1 0-3.8 0M-7.9 12.4a1.9 1.9 0 1 0 3.8 0a1.9 1.9 0 1 0-3.8 0M-10.4 9.9a1.9 1.9 0 1 0 3.8 0a1.9 1.9 0 1 0-3.8 0M-12.9 7.4a1.9 1.9 0 1 0 3.8 0a1.9 1.9 0 1 0-3.8 0M-10.4 14.9a1.9 1.9 0 1 0 3.8 0a1.9 1.9 0 1 0-3.8 0M-12.9 12.4a1.9 1.9 0 1 0 3.8 0a1.9 1.9 0 1 0-3.8 0M-15.3 9.9a1.9 1.9 0 1 0 3.8 0a1.9 1.9 0 1 0-3.8 0M-10.7 18.7a1.9 1.9 0 1 0 3.8 0a1.9 1.9 0 1 0-3.8 0M-18.5 11a1.9 1.9 0 1 0 3.8 0a1.9 1.9 0 1 0-3.8 0M-5.4 14.9a1.9 1.9 0 1 0 3.8 0a1.9 1.9 0 1 0-3.8 0M-9.3 -1.1a1.9 1.9 0 1 0 3.8 0a1.9 1.9 0 1 0-3.8 0M-6.9 -3.5a1.9 1.9 0 1 0 3.8 0a1.9 1.9 0 1 0-3.8 0M-4.4 -6a1.9 1.9 0 1 0 3.8 0a1.9 1.9 0 1 0-3.8 0M-11.8 -3.5a1.9 1.9 0 1 0 3.8 0a1.9 1.9 0 1 0-3.8 0M-9.3 -6a1.9 1.9 0 1 0 3.8 0a1.9 1.9 0 1 0-3.8 0M-6.9 -8.5a1.9 1.9 0 1 0 3.8 0a1.9 1.9 0 1 0-3.8 0M-14.3 -6a1.9 1.9 0 1 0 3.8 0a1.9 1.9 0 1 0-3.8 0M-11.8 -8.5a1.9 1.9 0 1 0 3.8 0a1.9 1.9 0 1 0-3.8 0M-9.3 -11a1.9 1.9 0 1 0 3.8 0a1.9 1.9 0 1 0-3.8 0M-16.8 -8.5a1.9 1.9 0 1 0 3.8 0a1.9 1.9 0 1 0-3.8 0M-14.3 -11a1.9 1.9 0 1 0 3.8 0a1.9 1.9 0 1 0-3.8 0M-11.8 -13.4a1.9 1.9 0 1 0 3.8 0a1.9 1.9 0 1 0-3.8 0M-20.6 -8.8a1.9 1.9 0 1 0 3.8 0a1.9 1.9 0 1 0-3.8 0M-12.9 -16.6a1.9 1.9 0 1 0 3.8 0a1.9 1.9 0 1 0-3.8 0M-16.8 -3.5a1.9 1.9 0 1 0 3.8 0a1.9 1.9 0 1 0-3.8 0"/><path d="M-8 -3 L-3 -8 L3 -7 L8 -2 L6 4 L1 7 L-5 5 Z" fill="#c8283c" stroke="#b8223a"/><circle cx="6.5" cy="6.5" r="1.8" fill="#c8283c" stroke="none"/></g>
<g transform="translate(235,465) rotate(7)"><path d="M-0.8 -7.4a1.9 1.9 0 1 0 3.8 0a1.9 1.9 0 1 0-3.8 0M1.6 -5a1.9 1.9 0 1 0 3.8 0a1.9 1.9 0 1 0-3.8 0M4.1 -2.5a1.9 1.9 0 1 0 3.8 0a1.9 1.9 0 1 0-3.8 0M1.6 -9.9a1.9 1.9 0 1 0 3.8 0a1.9 1.9 0 1 0-3.8 0M4.1 -7.4a1.9 1.9 0 1 0 3.8 0a1.9 1.9 0 1 0-3.8 0M6.6 -5a1.9 1.9 0 1 0 3.8 0a1.9 1.9 0 1 0-3.8 0M4.1 -12.4a1.9 1.9 0 1 0 3.8 0a1.9 1.9 0 1 0-3.8 0M6.6 -9.9a1.9 1.9 0 1 0 3.8 0a1.9 1.9 0 1 0-3.8 0M9.1 -7.4a1.9 1.9 0 1 0 3.8 0a1.9 1.9 0 1 0-3.8 0M6.6 -14.9a1.9 1.9 0 1 0 3.8 0a1.9 1.9 0 1 0-3.8 0M9.1 -12.4a1.9 1.9 0 1 0 3.8 0a1.9 1.9 0 1 0-3.8 0M11.5 -9.9a1.9 1.9 0 1 0 3.8 0a1.9 1.9 0 1 0-3.8 0M6.9 -18.7a1.9 1.9 0 1 0 3.8 0a1.9 1.9 0 1 0-3.8 0M14.7 -11a1.9 1.9 0 1 0 3.8 0a1.9 1.9 0 1 0-3.8 0M1.6 -14.9a1.9 1.9 0 1 0 3.8 0a1.9 1.9 0 1 0-3.8 0M5.5 1.1a1.9 1.9 0 1 0 3.8 0a1.9 1.9 0 1 0-3.8 0M3.1 3.5a1.9 1.9 0 1 0 3.8 0a1.9 1.9 0 1 0-3.8 0M0.6 6a1.9 1.9 0 1 0 3.8 0a1.9 1.9 0 1 0-3.8 0M8 3.5a1.9 1.9 0 1 0 3.8 0a1.9 1.9 0 1 0-3.8 0M5.5 6a1.9 1.9 0 1 0 3.8 0a1.9 1.9 0 1 0-3.8 0M3.1 8.5a1.9 1.9 0 1 0 3.8 0a1.9 1.9 0 1 0-3.8 0M10.5 6a1.9 1.9 0 1 0 3.8 0a1.9 1.9 0 1 0-3.8 0M8 8.5a1.9 1.9 0 1 0 3.8 0a1.9 1.9 0 1 0-3.8 0M5.5 11a1.9 1.9 0 1 0 3.8 0a1.9 1.9 0 1 0-3.8 0M13 8.5a1.9 1.9 0 1 0 3.8 0a1.9 1.9 0 1 0-3.8 0M10.5 11a1.9 1.9 0 1 0 3.8 0a1.9 1.9 0 1 0-3.8 0M8 13.4a1.9 1.9 0 1 0 3.8 0a1.9 1.9 0 1 0-3.8 0M16.8 8.8a1.9 1.9 0 1 0 3.8 0a1.9 1.9 0 1 0-3.8 0M9.1 16.6a1.9 1.9 0 1 0 3.8 0a1.9 1.9 0 1 0-3.8 0M13 3.5a1.9 1.9 0 1 0 3.8 0a1.9 1.9 0 1 0-3.8 0M-3 7.4a1.9 1.9 0 1 0 3.8 0a1.9 1.9 0 1 0-3.8 0M-5.4 5a1.9 1.9 0 1 0 3.8 0a1.9 1.9 0 1 0-3.8 0M-7.9 2.5a1.9 1.9 0 1 0 3.8 0a1.9 1.9 0 1 0-3.8 0M-5.4 9.9a1.9 1.9 0 1 0 3.8 0a1.9 1.9 0 1 0-3.8 0M-7.9 7.4a1.9 1.9 0 1 0 3.8 0a1.9 1.9 0 1 0-3.8 0M-10.4 5a1.9 1.9 0 1 0 3.8 0a1.9 1.9 0 1 0-3.8 0M-7.9 12.4a1.9 1.9 0 1 0 3.8 0a1.9 1.9 0 1 0-3.8 0M-10.4 9.9a1.9 1.9 0 1 0 3.8 0a1.9 1.9 0 1 0-3.8 0M-12.9 7.4a1.9 1.9 0 1 0 3.8 0a1.9 1.9 0 1 0-3.8 0M-10.4 14.9a1.9 1.9 0 1 0 3.8 0a1.9 1.9 0 1 0-3.8 0M-12.9 12.4a1.9 1.9 0 1 0 3.8 0a1.9 1.9 0 1 0-3.8 0M-15.3 9.9a1.9 1.9 0 1 0 3.8 0a1.9 1.9 0 1 0-3.8 0M-10.7 18.7a1.9 1.9 0 1 0 3.8 0a1.9 1.9 0 1 0-3.8 0M-18.5 11a1.9 1.9 0 1 0 3.8 0a1.9 1.9 0 1 0-3.8 0M-5.4 14.9a1.9 1.9 0 1 0 3.8 0a1.9 1.9 0 1 0-3.8 0M-9.3 -1.1a1.9 1.9 0 1 0 3.8 0a1.9 1.9 0 1 0-3.8 0M-6.9 -3.5a1.9 1.9 0 1 0 3.8 0a1.9 1.9 0 1 0-3.8 0M-4.4 -6a1.9 1.9 0 1 0 3.8 0a1.9 1.9 0 1 0-3.8 0M-11.8 -3.5a1.9 1.9 0 1 0 3.8 0a1.9 1.9 0 1 0-3.8 0M-9.3 -6a1.9 1.9 0 1 0 3.8 0a1.9 1.9 0 1 0-3.8 0M-6.9 -8.5a1.9 1.9 0 1 0 3.8 0a1.9 1.9 0 1 0-3.8 0M-14.3 -6a1.9 1.9 0 1 0 3.8 0a1.9 1.9 0 1 0-3.8 0M-11.8 -8.5a1.9 1.9 0 1 0 3.8 0a1.9 1.9 0 1 0-3.8 0M-9.3 -11a1.9 1.9 0 1 0 3.8 0a1.9 1.9 0 1 0-3.8 0M-16.8 -8.5a1.9 1.9 0 1 0 3.8 0a1.9 1.9 0 1 0-3.8 0M-14.3 -11a1.9 1.9 0 1 0 3.8 0a1.9 1.9 0 1 0-3.8 0M-11.8 -13.4a1.9 1.9 0 1 0 3.8 0a1.9 1.9 0 1 0-3.8 0M-20.6 -8.8a1.9 1.9 0 1 0 3.8 0a1.9 1.9 0 1 0-3.8 0M-12.9 -16.6a1.9 1.9 0 1 0 3.8 0a1.9 1.9 0 1 0-3.8 0M-16.8 -3.5a1.9 1.9 0 1 0 3.8 0a1.9 1.9 0 1 0-3.8 0"/><path d="M-8 -3 L-3 -8 L3 -7 L8 -2 L6 4 L1 7 L-5 5 Z" fill="#c8283c" stroke="#b8223a"/><circle cx="6.5" cy="6.5" r="1.8" fill="#c8283c" stroke="none"/></g>
<g transform="translate(322,490) rotate(6)"><path d="M-0.8 -7.4a1.9 1.9 0 1 0 3.8 0a1.9 1.9 0 1 0-3.8 0M1.6 -5a1.9 1.9 0 1 0 3.8 0a1.9 1.9 0 1 0-3.8 0M4.1 -2.5a1.9 1.9 0 1 0 3.8 0a1.9 1.9 0 1 0-3.8 0M1.6 -9.9a1.9 1.9 0 1 0 3.8 0a1.9 1.9 0 1 0-3.8 0M4.1 -7.4a1.9 1.9 0 1 0 3.8 0a1.9 1.9 0 1 0-3.8 0M6.6 -5a1.9 1.9 0 1 0 3.8 0a1.9 1.9 0 1 0-3.8 0M4.1 -12.4a1.9 1.9 0 1 0 3.8 0a1.9 1.9 0 1 0-3.8 0M6.6 -9.9a1.9 1.9 0 1 0 3.8 0a1.9 1.9 0 1 0-3.8 0M9.1 -7.4a1.9 1.9 0 1 0 3.8 0a1.9 1.9 0 1 0-3.8 0M6.6 -14.9a1.9 1.9 0 1 0 3.8 0a1.9 1.9 0 1 0-3.8 0M9.1 -12.4a1.9 1.9 0 1 0 3.8 0a1.9 1.9 0 1 0-3.8 0M11.5 -9.9a1.9 1.9 0 1 0 3.8 0a1.9 1.9 0 1 0-3.8 0M6.9 -18.7a1.9 1.9 0 1 0 3.8 0a1.9 1.9 0 1 0-3.8 0M14.7 -11a1.9 1.9 0 1 0 3.8 0a1.9 1.9 0 1 0-3.8 0M1.6 -14.9a1.9 1.9 0 1 0 3.8 0a1.9 1.9 0 1 0-3.8 0M5.5 1.1a1.9 1.9 0 1 0 3.8 0a1.9 1.9 0 1 0-3.8 0M3.1 3.5a1.9 1.9 0 1 0 3.8 0a1.9 1.9 0 1 0-3.8 0M0.6 6a1.9 1.9 0 1 0 3.8 0a1.9 1.9 0 1 0-3.8 0M8 3.5a1.9 1.9 0 1 0 3.8 0a1.9 1.9 0 1 0-3.8 0M5.5 6a1.9 1.9 0 1 0 3.8 0a1.9 1.9 0 1 0-3.8 0M3.1 8.5a1.9 1.9 0 1 0 3.8 0a1.9 1.9 0 1 0-3.8 0M10.5 6a1.9 1.9 0 1 0 3.8 0a1.9 1.9 0 1 0-3.8 0M8 8.5a1.9 1.9 0 1 0 3.8 0a1.9 1.9 0 1 0-3.8 0M5.5 11a1.9 1.9 0 1 0 3.8 0a1.9 1.9 0 1 0-3.8 0M13 8.5a1.9 1.9 0 1 0 3.8 0a1.9 1.9 0 1 0-3.8 0M10.5 11a1.9 1.9 0 1 0 3.8 0a1.9 1.9 0 1 0-3.8 0M8 13.4a1.9 1.9 0 1 0 3.8 0a1.9 1.9 0 1 0-3.8 0M16.8 8.8a1.9 1.9 0 1 0 3.8 0a1.9 1.9 0 1 0-3.8 0M9.1 16.6a1.9 1.9 0 1 0 3.8 0a1.9 1.9 0 1 0-3.8 0M13 3.5a1.9 1.9 0 1 0 3.8 0a1.9 1.9 0 1 0-3.8 0M-3 7.4a1.9 1.9 0 1 0 3.8 0a1.9 1.9 0 1 0-3.8 0M-5.4 5a1.9 1.9 0 1 0 3.8 0a1.9 1.9 0 1 0-3.8 0M-7.9 2.5a1.9 1.9 0 1 0 3.8 0a1.9 1.9 0 1 0-3.8 0M-5.4 9.9a1.9 1.9 0 1 0 3.8 0a1.9 1.9 0 1 0-3.8 0M-7.9 7.4a1.9 1.9 0 1 0 3.8 0a1.9 1.9 0 1 0-3.8 0M-10.4 5a1.9 1.9 0 1 0 3.8 0a1.9 1.9 0 1 0-3.8 0M-7.9 12.4a1.9 1.9 0 1 0 3.8 0a1.9 1.9 0 1 0-3.8 0M-10.4 9.9a1.9 1.9 0 1 0 3.8 0a1.9 1.9 0 1 0-3.8 0M-12.9 7.4a1.9 1.9 0 1 0 3.8 0a1.9 1.9 0 1 0-3.8 0M-10.4 14.9a1.9 1.9 0 1 0 3.8 0a1.9 1.9 0 1 0-3.8 0M-12.9 12.4a1.9 1.9 0 1 0 3.8 0a1.9 1.9 0 1 0-3.8 0M-15.3 9.9a1.9 1.9 0 1 0 3.8 0a1.9 1.9 0 1 0-3.8 0M-10.7 18.7a1.9 1.9 0 1 0 3.8 0a1.9 1.9 0 1 0-3.8 0M-18.5 11a1.9 1.9 0 1 0 3.8 0a1.9 1.9 0 1 0-3.8 0M-5.4 14.9a1.9 1.9 0 1 0 3.8 0a1.9 1.9 0 1 0-3.8 0M-9.3 -1.1a1.9 1.9 0 1 0 3.8 0a1.9 1.9 0 1 0-3.8 0M-6.9 -3.5a1.9 1.9 0 1 0 3.8 0a1.9 1.9 0 1 0-3.8 0M-4.4 -6a1.9 1.9 0 1 0 3.8 0a1.9 1.9 0 1 0-3.8 0M-11.8 -3.5a1.9 1.9 0 1 0 3.8 0a1.9 1.9 0 1 0-3.8 0M-9.3 -6a1.9 1.9 0 1 0 3.8 0a1.9 1.9 0 1 0-3.8 0M-6.9 -8.5a1.9 1.9 0 1 0 3.8 0a1.9 1.9 0 1 0-3.8 0M-14.3 -6a1.9 1.9 0 1 0 3.8 0a1.9 1.9 0 1 0-3.8 0M-11.8 -8.5a1.9 1.9 0 1 0 3.8 0a1.9 1.9 0 1 0-3.8 0M-9.3 -11a1.9 1.9 0 1 0 3.8 0a1.9 1.9 0 1 0-3.8 0M-16.8 -8.5a1.9 1.9 0 1 0 3.8 0a1.9 1.9 0 1 0-3.8 0M-14.3 -11a1.9 1.9 0 1 0 3.8 0a1.9 1.9 0 1 0-3.8 0M-11.8 -13.4a1.9 1.9 0 1 0 3.8 0a1.9 1.9 0 1 0-3.8 0M-20.6 -8.8a1.9 1.9 0 1 0 3.8 0a1.9 1.9 0 1 0-3.8 0M-12.9 -16.6a1.9 1.9 0 1 0 3.8 0a1.9 1.9 0 1 0-3.8 0M-16.8 -3.5a1.9 1.9 0 1 0 3.8 0a1.9 1.9 0 1 0-3.8 0"/><path d="M-8 -3 L-3 -8 L3 -7 L8 -2 L6 4 L1 7 L-5 5 Z" fill="#c8283c" stroke="#b8223a"/><circle cx="6.5" cy="6.5" r="1.8" fill="#c8283c" stroke="none"/></g>
</g>

<!-- ============ BOX ============ -->
<polygon points="418,293 676,251 934,291 676,332" fill="url(#topG)" stroke="#1a1a1a" stroke-width="1.3" stroke-linejoin="round"/>
<polygon points="676,332 934,291 934,507 676,545" fill="url(#sideG)" stroke="#1a1a1a" stroke-width="1.3" stroke-linejoin="round"/>
<polygon points="423,299 671,337 671,537 423,499" fill="url(#pl)"/>
<path d="M418 293 L676 332 L676 545 L418 501 Z M423 299 L423 499 L671 537 L671 337 Z" fill="#3a68c8" fill-rule="evenodd" stroke="#1a1a1a" stroke-width="1.2" stroke-linejoin="round"/>
<!-- door -->
<polygon points="388,322 495.5,309 495.5,513 388,527" fill="#fcf3cf" stroke="#5a5a5a" stroke-width="1.6"/>
<polyline points="391.5,325 492,313 492,510" fill="none" stroke="#8a8a8a" stroke-width="0.9"/>
<text x="440" y="412" text-anchor="middle" font-family="Liberation Sans, sans-serif" font-weight="bold" font-size="29" fill="#f08a38" textLength="61" lengthAdjust="spacingAndGlyphs">PEM</text>

<!-- purple zoom lines -->
<path d="M408 147 L447 346" stroke="#7431a8" stroke-width="2.6" fill="none"/>
<path d="M598 180 L459 345" stroke="#7431a8" stroke-width="2.6" fill="none"/>
<circle cx="452" cy="352" r="6" fill="none" stroke="#7431a8" stroke-width="2" stroke-dasharray="4 3"/>

<!-- dimension lines -->
<g stroke="#111" stroke-width="1.1" fill="none">
<path d="M602 535 V563 M619 535 V563"/>
<path d="M571 547 L599 551" marker-end="url(#ah)"/>
<path d="M651 557 L621 553" marker-end="url(#ah)"/>
<path d="M676 547 V573 M934 509 V534"/>
<path d="M806 539.5 L678 557.3" marker-end="url(#ah)"/>
<path d="M806 539.5 L932 522" marker-end="url(#ah)"/>
</g>
<text x="607" y="588" text-anchor="middle" font-family="Liberation Serif, serif" font-weight="bold" font-style="italic" font-size="24" fill="#111">2h</text>
<text x="811" y="568" text-anchor="middle" font-family="Liberation Serif, serif" font-weight="bold" font-style="italic" font-size="24" fill="#111">L</text>

<!-- ============ CHART ============ -->
<g stroke="#222" stroke-width="1.4" fill="none">
<rect x="1022" y="124" width="493" height="400"/>
<path d="M1029.5 524v8M1097 524v8M1164.5 524v8M1232 524v8M1299.5 524v8M1367 524v8M1434.5 524v8M1502 524v8"/>
<path d="M1063.25 524v4M1130.75 524v4M1198.25 524v4M1265.75 524v4M1333.25 524v4M1400.75 524v4M1468.25 524v4"/>
<path d="M1022 524h-7M1022 466.9h-7M1022 409.7h-7M1022 352.6h-7M1022 295.4h-7M1022 238.3h-7M1022 181.2h-7M1022 124h-7"/>
<path d="M1022 495.4h-4M1022 438.3h-4M1022 381.1h-4M1022 324h-4M1022 266.9h-4M1022 209.7h-4M1022 152.6h-4"/>
</g>
<g font-family="Liberation Serif, serif" font-size="20" fill="#222" text-anchor="end">
<text x="1010" y="531">0</text><text x="1010" y="474">10</text><text x="1010" y="417">20</text><text x="1010" y="360">30</text><text x="1010" y="302">40</text><text x="1010" y="245">50</text><text x="1010" y="188">60</text><text x="1010" y="131">70</text>
</g>
<g font-family="Liberation Serif, serif" font-size="20" fill="#222" text-anchor="middle">
<text x="1029.5" y="554">0</text><text x="1097" y="554">100</text><text x="1164.5" y="554">200</text><text x="1232" y="554">300</text><text x="1299.5" y="554">400</text><text x="1367" y="554">500</text><text x="1434.5" y="554">600</text><text x="1502" y="554">700</text>
</g>
<text x="1270" y="589" text-anchor="middle" font-family="Liberation Serif, serif" font-size="22" fill="#222">Time (h)</text>
<text transform="translate(969,325) rotate(-90)" text-anchor="middle" font-family="Liberation Serif, serif" font-size="22" fill="#222">Singe-pass efficiency (%)</text>

<!-- series -->
<polyline fill="none" stroke="#e8413c" stroke-width="1.3" marker-start="url(#mr)" marker-mid="url(#mr)" marker-end="url(#mr)" points="1029.5,219.4 1043,232.6 1056.5,245.2 1070,257.2 1083.5,269.2 1097,280.6 1110.5,291.4 1124,301.7 1137.5,312 1151,321.7 1164.5,330.9 1178,340 1191.5,348.6 1205,357.2 1218.5,365.2 1232,373.1 1245.5,380 1259,386.9 1272.5,393.1 1286,399.4 1299.5,405.1 1313,410.9 1326.5,416.6 1340,422.3 1353.5,427.4 1367,432.6 1380.5,437.1 1394,441.7 1407.5,446.3 1421,450.3 1434.5,454.3 1448,457.7 1461.5,461.1 1475,464.6 1488.5,468 1502,470.9"/>
<polyline fill="none" stroke="#3aaa5c" stroke-width="1.3" marker-start="url(#mg)" marker-mid="url(#mg)" marker-end="url(#mg)" points="1029.5,141.2 1043,162.3 1056.5,182.3 1070,201.2 1083.5,219.4 1097,237.2 1110.5,253.7 1124,269.7 1137.5,285.2 1151,300 1164.5,314.3 1178,327.4 1191.5,340 1205,352 1218.5,363.4 1232,373.7 1245.5,383.4 1259,392.6 1272.5,401.1 1286,409.7 1299.5,417.7 1313,425.1 1326.5,432 1340,438.9 1353.5,445.1 1367,450.9 1380.5,456 1394,461.1 1407.5,465.7 1421,470.3 1434.5,474.3 1448,477.7 1461.5,481.1 1475,484.6 1488.5,488 1502,490.9"/>
<path fill="none" stroke="#2a6fdb" stroke-width="1.3" marker-start="url(#mb)" marker-mid="url(#mb)" marker-end="url(#mb)" d="M1029.5 360l13.5 .883l13.5 .883l13.5 .883l13.5 .883l13.5 .883l13.5 .883l13.5 .883l13.5 .883l13.5 .883l13.5 .883l13.5 .883l13.5 .883l13.5 .883l13.5 .883l13.5 .883l13.5 .883l13.5 .883l13.5 .883l13.5 .883l13.5 .883l13.5 .883l13.5 .883l13.5 .883l13.5 .883l13.5 .883l13.5 .883l13.5 .883l13.5 .883l13.5 .883l13.5 .883l13.5 .883l13.5 .883l13.5 .883l13.5 .883l13.5 .883"/>
<path fill="none" stroke="#1a8a7a" stroke-width="1.3" marker-start="url(#mt)" marker-mid="url(#mt)" marker-end="url(#mt)" d="M1029.5 189.2l13.5 .163l13.5 .163l13.5 .163l13.5 .163l13.5 .163l13.5 .163l13.5 .163l13.5 .163l13.5 .163l13.5 .163l13.5 .163l13.5 .163l13.5 .163l13.5 .163l13.5 .163l13.5 .163l13.5 .163l13.5 .163l13.5 .163l13.5 .163l13.5 .163l13.5 .163l13.5 .163l13.5 .163l13.5 .163l13.5 .163l13.5 .163l13.5 .163l13.5 .163l13.5 .163l13.5 .163l13.5 .163l13.5 .163l13.5 .163l13.5 .163"/>
<path fill="none" stroke="#a873e8" stroke-width="1.3" marker-start="url(#mp)" marker-mid="url(#mp)" marker-end="url(#mp)" d="M1029.5 194.3l13.5 .114l13.5 .114l13.5 .114l13.5 .114l13.5 .114l13.5 .114l13.5 .114l13.5 .114l13.5 .114l13.5 .114l13.5 .114l13.5 .114l13.5 .114l13.5 .114l13.5 .114l13.5 .114l13.5 .114l13.5 .114l13.5 .114l13.5 .114l13.5 .114l13.5 .114l13.5 .114l13.5 .114l13.5 .114l13.5 .114l13.5 .114l13.5 .114l13.5 .114l13.5 .114l13.5 .114l13.5 .114l13.5 .114l13.5 .114l13.5 .114"/>
<path fill="none" stroke="#f6a25e" stroke-width="1.3" marker-start="url(#mo)" marker-mid="url(#mo)" marker-end="url(#mo)" d="M1029.5 191.4l13.5 .049l13.5 .049l13.5 .049l13.5 .049l13.5 .049l13.5 .049l13.5 .049l13.5 .049l13.5 .049l13.5 .049l13.5 .049l13.5 .049l13.5 .049l13.5 .049l13.5 .049l13.5 .049l13.5 .049l13.5 .049l13.5 .049l13.5 .049l13.5 .049l13.5 .049l13.5 .049l13.5 .049l13.5 .049l13.5 .049l13.5 .049l13.5 .049l13.5 .049l13.5 .049l13.5 .049l13.5 .049l13.5 .049l13.5 .049l13.5 .049"/>

<!-- legend -->
<path d="M1042 450.7h19h19" stroke="#3aaa5c" stroke-width="1.3" fill="none" marker-mid="url(#mg)"/>
<path d="M1042 470.7h19h19" stroke="#e8413c" stroke-width="1.3" fill="none" marker-mid="url(#mr)"/>
<path d="M1042 491.7h19h19" stroke="#2a6fdb" stroke-width="1.3" fill="none" marker-mid="url(#mb)"/>
<path d="M1155 450.7h19h19" stroke="#1a8a7a" stroke-width="1.3" fill="none" marker-mid="url(#mt)"/>
<path d="M1155 470.7h19h19" stroke="#a873e8" stroke-width="1.3" fill="none" marker-mid="url(#mp)"/>
<path d="M1155 491.7h19h19" stroke="#f6a25e" stroke-width="1.3" fill="none" marker-mid="url(#mo)"/>
<g font-family="Liberation Serif, serif" font-size="16.5" fill="#222">
<text x="1085" y="456.5">BD-20 #1</text><text x="1085" y="476.5">BD-20 #2</text><text x="1085" y="497.5">BD-20 #3</text>
<text x="1199" y="456.5">BD-40 #1</text><text x="1199" y="476.5">BD-40 #2</text><text x="1199" y="497.5">BD-40 #3</text>
</g>

<!-- ============ FLOW ============ -->
<g fill="none" stroke="#7fa3e2" stroke-width="2">
<rect x="22" y="663" width="267" height="75" rx="13"/>
<rect x="511" y="661" width="192" height="73" rx="13"/>
<rect x="770" y="661" width="217" height="73" rx="13"/>
<rect x="1055" y="661" width="167" height="73" rx="13"/>
<rect x="1300" y="661" width="184" height="73" rx="13"/>
</g>
<g fill="#ddf6fa" stroke="#4a80d8" stroke-width="2">
<rect x="22" y="661" width="267" height="74" rx="13"/>
<rect x="511" y="659" width="192" height="72" rx="13"/>
<rect x="770" y="659" width="217" height="72" rx="13"/>
<rect x="1055" y="659" width="167" height="72" rx="13"/>
<rect x="1300" y="659" width="184" height="72" rx="13"/>
</g>
<g font-family="Liberation Sans, sans-serif" font-weight="bold" font-size="22" fill="#1b66bd" text-anchor="middle">
<text x="155" y="688" textLength="222" lengthAdjust="spacingAndGlyphs">Baseline burden of</text>
<text x="155" y="721" textLength="153" lengthAdjust="spacingAndGlyphs">disease (BD)</text>
<text x="609" y="706" font-size="23" textLength="123" lengthAdjust="spacingAndGlyphs">Target BD</text>
<text x="881" y="688" textLength="109" lengthAdjust="spacingAndGlyphs">Personal</text>
<text x="880" y="722" textLength="164" lengthAdjust="spacingAndGlyphs">exposure level</text>
<text x="1144" y="688" textLength="107" lengthAdjust="spacingAndGlyphs">Required</text>
<text x="1144" y="722" textLength="110" lengthAdjust="spacingAndGlyphs">efficiency</text>
<text x="1398" y="688" textLength="125" lengthAdjust="spacingAndGlyphs">Key design</text>
<text x="1398" y="722" textLength="135" lengthAdjust="spacingAndGlyphs">parameters</text>
</g>
<g font-family="Liberation Sans, sans-serif" font-weight="bold" font-size="21" fill="#7dbf3e" text-anchor="middle">
<text x="397" y="675" textLength="159" lengthAdjust="spacingAndGlyphs">BD reduction</text>
<text x="395" y="730" textLength="198" lengthAdjust="spacingAndGlyphs">(Health benefits)</text>
</g>
<path d="M300 688 H466 V683 L497 695 L466 708 V702 H300 Z" fill="#7dc242"/>
<g fill="#4a78d0">
<path d="M716 688 H741 V682 L765 695 L741 708 V702 H716 Z"/>
<path d="M1000 688 H1027 V682 L1051 695 L1027 708 V702 H1000 Z"/>
<path d="M1242 688 H1268 V682 L1293 695 L1268 708 V702 H1242 Z"/>
</g>
<path d="M0 763.5 H1540" stroke="#ececec" stroke-width="1"/>
</svg>
</body></html>
